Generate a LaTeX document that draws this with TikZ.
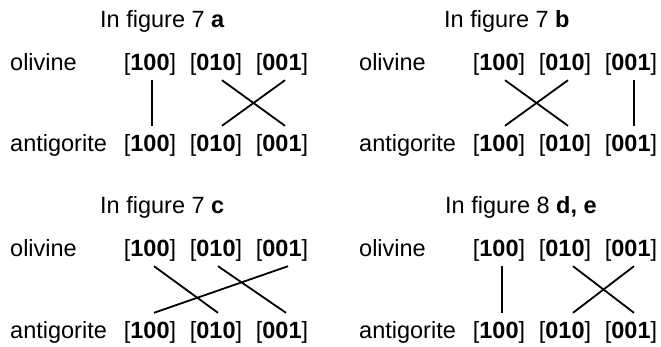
\documentclass[tikz,border=0pt]{standalone}
\usepackage{fontspec}
\setmainfont{Liberation Sans}
\begin{document}
\begin{tikzpicture}[x=1pt,y=-1pt,
  every node/.style={inner sep=0pt, font=\fontsize{23.5}{28}\selectfont},
  lbl/.style={anchor=base, text height=25pt, text depth=10pt},
  mineral/.style={anchor=base west},
  ttl/.style={anchor=base west},
  link/.style={line width=1.8pt, line cap=butt}]
\useasboundingbox (0,0) rectangle (661,346);

% ---------- panel a ----------
\begin{scope}
\node[ttl] (at) at (100,27) {In figure 7 \textbf{a}};
\node[mineral] (aol) at (10,70) {olivine};
\node[mineral] (aan) at (10,151) {antigorite};
\node[lbl] (ao1) at (150,70) {[\textbf{100}]};
\node[lbl] (ao2) at (216,70) {[\textbf{010}]};
\node[lbl] (ao3) at (282,70) {[\textbf{001}]};
\node[lbl] (aa1) at (150,151) {[\textbf{100}]};
\node[lbl] (aa2) at (216,151) {[\textbf{010}]};
\node[lbl] (aa3) at (282,151) {[\textbf{001}]};
\draw[link] ([xshift=2pt]ao1.south) -- ([xshift=2pt]aa1.north);
\draw[link] ([xshift=6pt]ao2.south) -- ([xshift=3pt]aa3.north);
\draw[link] ([xshift=3pt]ao3.south) -- ([xshift=6pt]aa2.north);
\end{scope}

% ---------- panel b ----------
\begin{scope}[shift={(349,0)}]
\node[ttl] (bt) at (95,27) {In figure 7 \textbf{b}};
\node[mineral] (bol) at (10,70) {olivine};
\node[mineral] (ban) at (10,151) {antigorite};
\node[lbl] (bo1) at (150,70) {[\textbf{100}]};
\node[lbl] (bo2) at (216,70) {[\textbf{010}]};
\node[lbl] (bo3) at (282,70) {[\textbf{001}]};
\node[lbl] (ba1) at (150,151) {[\textbf{100}]};
\node[lbl] (ba2) at (216,151) {[\textbf{010}]};
\node[lbl] (ba3) at (282,151) {[\textbf{001}]};
\draw[link] ([xshift=6pt]bo1.south) -- ([xshift=3pt]ba2.north);
\draw[link] ([xshift=3pt]bo2.south) -- ([xshift=6pt]ba1.north);
\draw[link] ([xshift=3pt]bo3.south) -- ([xshift=3pt]ba3.north);
\end{scope}

% ---------- panel c ----------
\begin{scope}[shift={(0,186)}]
\node[ttl] (ct) at (100,27) {In figure 7 \textbf{c}};
\node[mineral] (col) at (10,70) {olivine};
\node[mineral] (can) at (10,152) {antigorite};
\node[lbl] (co1) at (150,70) {[\textbf{100}]};
\node[lbl] (co2) at (216,70) {[\textbf{010}]};
\node[lbl] (co3) at (282,70) {[\textbf{001}]};
\node[lbl] (ca1) at (150,152) {[\textbf{100}]};
\node[lbl] (ca2) at (216,152) {[\textbf{010}]};
\node[lbl] (ca3) at (282,152) {[\textbf{001}]};
\draw[link] ([xshift=4pt]co1.south) -- ([xshift=2pt]ca2.north);
\draw[link] ([xshift=2pt]co2.south) -- ([xshift=4pt]ca3.north);
\draw[link] ([xshift=6pt]co3.south) -- ([xshift=4pt]ca1.north);
\end{scope}

% ---------- panel d ----------
\begin{scope}[shift={(349,186)}]
\node[ttl] (dt) at (96,27) {In figure 8 \textbf{d, e}};
\node[mineral] (dol) at (10,70) {olivine};
\node[mineral] (dan) at (10,152) {antigorite};
\node[lbl] (do1) at (150,70) {[\textbf{100}]};
\node[lbl] (do2) at (216,70) {[\textbf{010}]};
\node[lbl] (do3) at (282,70) {[\textbf{001}]};
\node[lbl] (da1) at (150,152) {[\textbf{100}]};
\node[lbl] (da2) at (216,152) {[\textbf{010}]};
\node[lbl] (da3) at (282,152) {[\textbf{001}]};
\draw[link] ([xshift=3pt]do1.south) -- ([xshift=3pt]da1.north);
\draw[link] ([xshift=8pt]do2.south) -- ([xshift=3pt]da3.north);
\draw[link] ([xshift=3pt]do3.south) -- ([xshift=8pt]da2.north);
\end{scope}
\end{tikzpicture}
\end{document}
